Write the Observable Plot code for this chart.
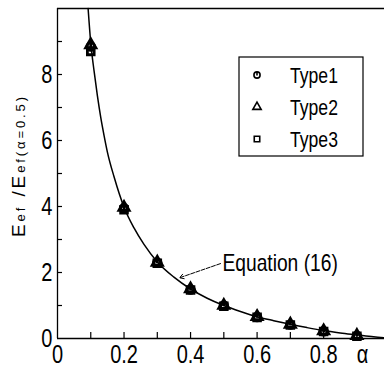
<!DOCTYPE html>
<html>
<head>
<meta charset="utf-8">
<script src="https://cdn.jsdelivr.net/npm/d3@7"></script>
<script src="https://cdn.jsdelivr.net/npm/@observablehq/plot@0.6"></script>
<style>
  html, body { margin: 0; padding: 0; background: #fff; }
  #chart svg { display: block; }
</style>
</head>
<body>
<div id="chart"></div>
<script>
// ---- Data ----
const alpha = [0.1, 0.2, 0.3, 0.4, 0.5, 0.6, 0.7, 0.8, 0.9];
const type1 = [8.85, 3.95, 2.30, 1.48, 1.00, 0.65, 0.42, 0.22, 0.08];
const type2 = [8.90, 3.97, 2.31, 1.50, 1.00, 0.66, 0.43, 0.23, 0.09];
const type3 = [8.70, 3.90, 2.28, 1.47, 0.98, 0.64, 0.41, 0.21, 0.07];

// Equation (16) curve
const curveAlpha = [0.092, 0.1, 0.11, 0.12, 0.13, 0.14, 0.15, 0.17, 0.2, 0.23, 0.26, 0.3, 0.35, 0.4, 0.45, 0.5, 0.55, 0.6, 0.65, 0.7, 0.75, 0.8, 0.85, 0.9, 0.95, 0.983];
const curveValue = [10.0, 8.95, 8.1, 7.35, 6.7, 6.15, 5.65, 4.9, 3.98, 3.35, 2.85, 2.32, 1.86, 1.5, 1.22, 1.0, 0.82, 0.66, 0.54, 0.43, 0.33, 0.24, 0.17, 0.11, 0.05, 0.02];

const seriesNames = ["Type1", "Type2", "Type3"];
const xTickLabels = [0, 0.2, 0.4, 0.6, 0.8];
const xMinorTicks = [0.1, 0.2, 0.3, 0.4, 0.5, 0.6, 0.7, 0.8, 0.9];
const yTickLabels = [0, 2, 4, 6, 8];
const yMinorTicks = [1, 2, 3, 4, 5, 6, 7, 8, 9];
const alphaLabel = ["α"];
const alphaLabelPos = [0.917];
const annotationText = ["Equation (16)"];
const annotationFrom = [0.49, 2.27];
const annotationTo = [0.367, 1.84];

// ---- Build table ----
const valuesBySeries = [type1, type2, type3];
const points = [];
seriesNames.forEach((s, si) => alpha.forEach((a, i) => points.push({series: s, alpha: a, value: valuesBySeries[si][i]})));
const curve = curveAlpha.map((a, i) => ({alpha: a, value: curveValue[i]}));

const FONT = "'Liberation Sans', Arial, sans-serif";
const NARROW = 0.8; // horizontal glyph compression (Arial Narrow look)

// custom symbol: circle with a vertical stroke
const circleBar = {
  draw(context, size) {
    const r = Math.sqrt(size / Math.PI);
    context.moveTo(r, 0);
    context.arc(0, 0, r, 0, 2 * Math.PI);
    context.moveTo(0, -r);
    context.lineTo(0, r * 0.2);
  }
};
const symbolFor = {Type1: circleBar, Type2: "triangle", Type3: "square"};

const chart = Plot.plot({
  width: 384,
  height: 368,
  marginLeft: 57,
  marginRight: 0,
  marginTop: 8,
  marginBottom: 30,
  x: {domain: [0, 0.983]},
  y: {domain: [0, 10]},
  style: {fontFamily: FONT, background: "#fff", color: "#000", overflow: "visible"},
  marks: [
    // frame lines: left, bottom, top
    Plot.ruleX([0], {stroke: "#000", strokeWidth: 1.3}),
    Plot.ruleY([0], {stroke: "#000", strokeWidth: 1.3}),
    Plot.ruleY([10], {stroke: "#000", strokeWidth: 1.3}),
    // inward ticks
    Plot.ruleX(xMinorTicks, {x: d => d, y1: 0, y2: 0, insetBottom: 6, stroke: "#000", strokeWidth: 1.2}),
    Plot.ruleY(yMinorTicks, {y: d => d, x1: 0, x2: 0, insetRight: -5, stroke: "#000", strokeWidth: 1.2}),
    // tick labels
    Plot.axisX(xTickLabels, {tickSize: 0, tickPadding: 7, fontSize: 25, label: null,
      tickFormat: d => d === 0 ? "0" : d.toFixed(1)}),
    Plot.axisY(yTickLabels, {tickSize: 0, tickPadding: 5, fontSize: 25, label: null,
      tickFormat: d => String(d)}),
    Plot.text(alphaLabel, {x: alphaLabelPos, frameAnchor: "bottom", lineAnchor: "top", dy: 7, fontSize: 25}),
    // curve
    Plot.line(curve, {x: "alpha", y: "value", stroke: "#000", strokeWidth: 1.5, curve: "monotone-x"}),
    // points
    ...seriesNames.map(s => Plot.dot(points.filter(d => d.series === s), {
      x: "alpha", y: "value", symbol: () => symbolFor[s], r: 3.8,
      stroke: "#000", strokeWidth: 2.8, fill: "none"
    })),
    // annotation
    Plot.arrow([0], {x1: annotationFrom[0], y1: annotationFrom[1], x2: annotationTo[0], y2: annotationTo[1],
      stroke: "#000", strokeWidth: 1, headLength: 7, strokeDasharray: "4,1.5"}),
    Plot.text(annotationText, {x: annotationFrom[0], y: annotationFrom[1], dx: 2, textAnchor: "start", fontSize: 24})
  ]
});

document.getElementById("chart").appendChild(chart);
const svg = d3.select(chart);

// compress Plot's texts horizontally for a narrow typeface look
svg.selectAll("text").each(function() {
  const len = this.getComputedTextLength();
  if (len > 0) {
    this.setAttribute("textLength", (len * NARROW).toFixed(2));
    this.setAttribute("lengthAdjust", "spacingAndGlyphs");
  }
});

// ---- Y axis title with small "ef" parts ----
const title = svg.append("text")
  .attr("transform", "translate(25,167) rotate(-90)")
  .attr("text-anchor", "middle")
  .attr("font-family", FONT)
  .attr("fill", "#000")
  .attr("textLength", 140)
  .attr("lengthAdjust", "spacing");
title.append("tspan").attr("font-size", 19).text("E");
title.append("tspan").attr("font-size", 13).text("ef");
title.append("tspan").attr("font-size", 19).text(" /E");
title.append("tspan").attr("font-size", 13).text("ef(α=0.5)");

// ---- Legend box ----
const lg = svg.append("g").attr("font-family", FONT).attr("text-anchor", "start");
lg.append("rect").attr("x", 239).attr("y", 57).attr("width", 124).attr("height", 99)
  .attr("fill", "#fff").attr("stroke", "#000").attr("stroke-width", 1.2);
const rowsY = [75, 107, 139];
seriesNames.forEach((s, i) => {
  const sym = typeof symbolFor[s] === "string" ? d3.symbol(d3["symbol" + symbolFor[s][0].toUpperCase() + symbolFor[s].slice(1)], 30)
                                               : d3.symbol(circleBar, 30);
  lg.append("path").attr("d", sym()).attr("transform", `translate(257,${rowsY[i]})`)
    .attr("fill", "none").attr("stroke", "#000").attr("stroke-width", 1.6);
  const t = lg.append("text").attr("x", 290).attr("y", rowsY[i]).attr("dy", "0.35em")
    .attr("font-size", 22).attr("fill", "#000").text(s);
  const node = t.node();
  node.setAttribute("textLength", (node.getComputedTextLength() * NARROW).toFixed(2));
  node.setAttribute("lengthAdjust", "spacingAndGlyphs");
});
</script>
</body>
</html>
